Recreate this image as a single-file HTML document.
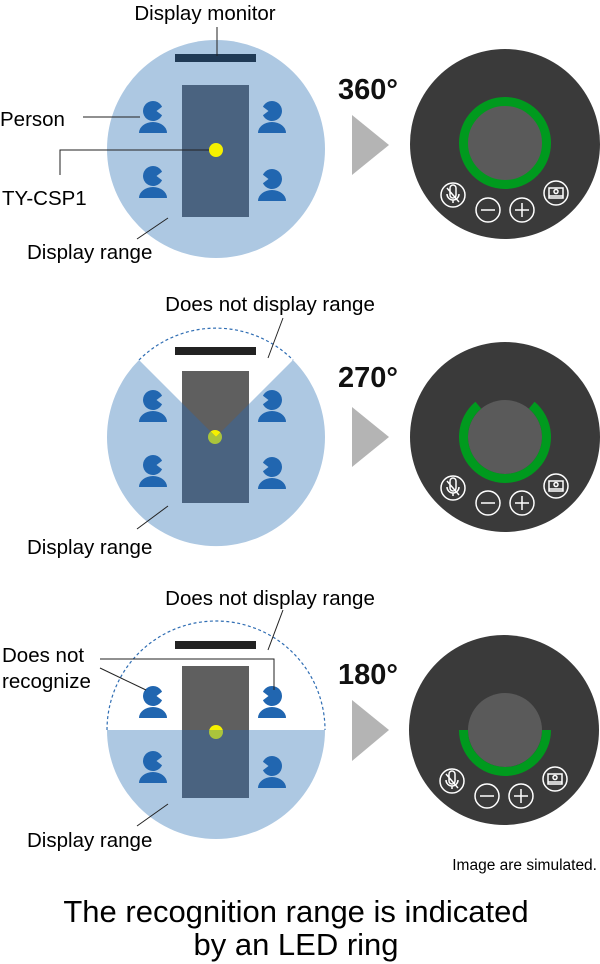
<!DOCTYPE html>
<html><head><meta charset="utf-8"><style>
body{margin:0;background:#fff;}
svg{display:block;font-family:"Liberation Sans",sans-serif;}
</style></head><body>
<svg width="600" height="964" viewBox="0 0 600 964" xmlns="http://www.w3.org/2000/svg">
<defs>
<g id="pl"><path d="M9.06 -4.2 A10 10 0 1 0 9.06 4.2 L3.5 0 Z" fill="#2166b0"/><path d="M-14 22 A14 11 0 0 1 14 22 Z" fill="#2166b0"/></g>
<g id="pr"><use href="#pl" transform="scale(-1,1)"/></g>
<clipPath id="c2"><path d="M216,437 L139,360 A109 109 0 1 0 293,360 Z"/></clipPath>
<clipPath id="c3"><rect x="100" y="730" width="240" height="120"/></clipPath>
<g id="btns" fill="none" stroke="#fff" stroke-width="1.5">
<circle cx="-52" cy="51" r="12"/><circle cx="-17" cy="66" r="12"/><circle cx="17" cy="66" r="12"/><circle cx="51" cy="49" r="12"/>
<line x1="-24" y1="66" x2="-10" y2="66"/><line x1="10" y1="66" x2="24" y2="66"/><line x1="17" y1="59" x2="17" y2="73"/>
<rect x="44" y="44" width="14" height="10"/><line x1="44" y1="52" x2="58" y2="52"/><circle cx="51" cy="47.5" r="2"/>
<path d="M-55 44 A3 3 0 0 1 -49 44 L-49 51 A3 3 0 0 1 -55 51 Z M-58 50 A6 6 0 0 0 -46 50 M-52 56 L-52 59 M-58 44 L-46 58"/>
</g>
</defs>

<!-- Section 1 -->
<circle cx="216" cy="149" r="109" fill="#adc8e2"/>
<rect x="175" y="54" width="81" height="8" fill="#203a55"/>
<rect x="182" y="85" width="67" height="132" fill="#4a6380"/>
<circle cx="216" cy="150" r="7" fill="#f5f000"/>
<use href="#pl" x="153" y="111"/><use href="#pr" x="272" y="111"/>
<use href="#pl" x="153" y="176"/><use href="#pr" x="272" y="179"/>
<g stroke="#222" stroke-width="1" fill="none">
<line x1="217" y1="27" x2="217" y2="56"/>
<line x1="83" y1="117" x2="140" y2="117"/>
<polyline points="60,175 60,150 209,150"/>
<line x1="137" y1="239" x2="168" y2="218"/>
</g>
<text x="205" y="20" font-size="20.5" text-anchor="middle">Display monitor</text>
<text x="0" y="126" font-size="20.5">Person</text>
<text x="2" y="205" font-size="20.5">TY-CSP1</text>
<text x="27" y="259" font-size="20.5">Display range</text>

<!-- Section 2 -->
<path d="M216,437 L139,360 A109 109 0 1 0 293,360 Z" fill="#adc8e2"/>
<path d="M139,360 A109 109 0 0 1 293,360" fill="none" stroke="#2f6db3" stroke-width="1.2" stroke-dasharray="3,2.5"/>
<rect x="175" y="347" width="81" height="8" fill="#222"/>
<rect x="182" y="371" width="67" height="132" fill="#5f5f5f"/>
<circle cx="215" cy="437" r="7" fill="#f5f000"/>
<g clip-path="url(#c2)"><rect x="182" y="371" width="67" height="132" fill="#4a6380"/><circle cx="215" cy="437" r="7" fill="#aac43c"/></g>
<use href="#pl" x="153" y="400"/><use href="#pr" x="272" y="400"/>
<use href="#pl" x="153" y="465"/><use href="#pr" x="272" y="467"/>
<g stroke="#222" stroke-width="1"><line x1="283" y1="318" x2="268" y2="358"/><line x1="137" y1="529" x2="168" y2="506"/></g>
<text x="270" y="311" font-size="20.5" text-anchor="middle">Does not display range</text>
<text x="27" y="554" font-size="20.5">Display range</text>

<!-- Section 3 -->
<path d="M107,730 A109 109 0 0 0 325,730 Z" fill="#adc8e2"/>
<path d="M107,730 A109 109 0 0 1 325,730" fill="none" stroke="#2f6db3" stroke-width="1.2" stroke-dasharray="3,2.5"/>
<rect x="175" y="641" width="81" height="8" fill="#222"/>
<rect x="182" y="666" width="67" height="132" fill="#5f5f5f"/>
<circle cx="216" cy="732" r="7" fill="#f5f000"/>
<g clip-path="url(#c3)"><rect x="182" y="666" width="67" height="132" fill="#4a6380"/><circle cx="216" cy="732" r="7" fill="#aac43c"/></g>
<use href="#pl" x="153" y="696"/><use href="#pr" x="272" y="696"/>
<use href="#pl" x="153" y="761"/><use href="#pr" x="272" y="766"/>
<g stroke="#222" stroke-width="1" fill="none">
<line x1="283" y1="610" x2="268" y2="650"/>
<polyline points="100,659 274,659 274,690"/>
<line x1="100" y1="668" x2="146" y2="690"/>
<line x1="137" y1="826" x2="168" y2="804"/>
</g>
<text x="270" y="605" font-size="20.5" text-anchor="middle">Does not display range</text>
<text x="2" y="662" font-size="20.5">Does not</text>
<text x="2" y="688" font-size="20.5">recognize</text>
<text x="27" y="847" font-size="20.5">Display range</text>

<!-- arrows & degrees -->
<g fill="#b4b4b4"><polygon points="352,115 389,145 352,175"/><polygon points="352,407 389,437 352,467"/><polygon points="352,700 389,730 352,761"/></g>
<g font-size="29" font-weight="bold" fill="#111">
<text x="338" y="99">360°</text><text x="338" y="387">270°</text><text x="338" y="684">180°</text>
</g>

<!-- devices -->
<circle cx="505" cy="144" r="95" fill="#3a3a3a"/>
<circle cx="505" cy="143" r="41.5" fill="#5a5a5a" stroke="#009a1e" stroke-width="9"/>
<use href="#btns" x="505" y="144"/>

<circle cx="505" cy="437" r="95" fill="#3a3a3a"/>
<circle cx="505" cy="437" r="37" fill="#5a5a5a"/>
<path d="M531.7,405.2 A41.5 41.5 0 1 1 478.3,405.2" fill="none" stroke="#009a1e" stroke-width="9"/>
<use href="#btns" x="505" y="437"/>

<circle cx="504" cy="730" r="95" fill="#3a3a3a"/>
<circle cx="505" cy="730" r="37" fill="#5a5a5a"/>
<path d="M463.5,730 A41.5 41.5 0 0 0 546.5,730" fill="none" stroke="#009a1e" stroke-width="9"/>
<use href="#btns" x="504" y="730"/>

<text x="597" y="870" font-size="15.5" text-anchor="end">Image are simulated.</text>
<text x="296" y="922" font-size="31" text-anchor="middle">The recognition range is indicated</text>
<text x="296" y="955" font-size="31" text-anchor="middle">by an LED ring</text>
</svg>
</body></html>
